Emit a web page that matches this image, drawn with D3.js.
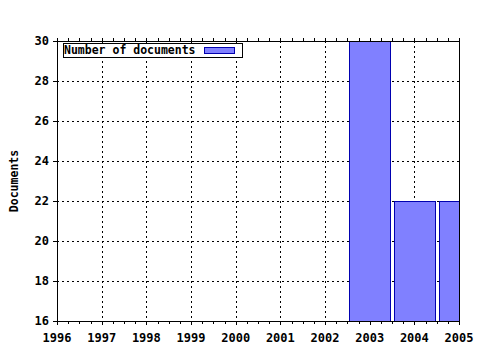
<!DOCTYPE html>
<html>
<head>
<meta charset="utf-8">
<script src="https://cdn.jsdelivr.net/npm/d3@7"></script>
<style>
  body { margin: 0; background: #fff; }
  text { font-family: "DejaVu Sans Mono", monospace; font-weight: bold; }
</style>
</head>
<body>
<div id="container"></div>
<script>
let w = 480;
let h = 350;

// data
let years = [2003, 2004, 2005];
let docs = [31, 22, 22];
let yearTicks = [1996, 1997, 1998, 1999, 2000, 2001, 2002, 2003, 2004, 2005];
let docTicks = [16, 18, 20, 22, 24, 26, 28, 30];
let legendLabel = "Number of documents";
let yLabel = "Documents";

let plotL = 57, plotR = 459, plotT = 41, plotB = 321;

let viz = d3.select("#container")
  .append("svg")
    .attr("width", w)
    .attr("height", h)
    .style("background-color", "white");

let xScale = d3.scaleLinear().domain([1996, 2005]).range([plotL, plotR]);
let yScale = d3.scaleLinear().domain([16, 30]).range([plotB, plotT]);

// clip for bars
viz.append("clipPath").attr("id", "plotclip")
  .append("rect")
    .attr("x", plotL).attr("y", plotT)
    .attr("width", plotR - plotL).attr("height", plotB - plotT);

// grid
let grid = viz.append("g").attr("class", "grid")
  .attr("stroke", "#000").attr("stroke-width", 1)
  .attr("stroke-dasharray", "2,3").attr("shape-rendering", "crispEdges");
grid.selectAll(".vgrid").data(yearTicks.slice(1, -1)).enter()
  .append("line")
    .attr("x1", d => Math.round(xScale(d)) + 0.5)
    .attr("x2", d => Math.round(xScale(d)) + 0.5)
    .attr("y1", plotT).attr("y2", plotB);
grid.selectAll(".hgrid").data(docTicks.slice(1, -1)).enter()
  .append("line")
    .attr("x1", plotL).attr("x2", plotR)
    .attr("y1", d => Math.round(yScale(d)) + 0.5)
    .attr("y2", d => Math.round(yScale(d)) + 0.5);

// bars
let barW = (xScale(1997) - xScale(1996)) * 0.91;
viz.append("g").attr("clip-path", "url(#plotclip)")
  .selectAll("rect").data(years).enter()
  .append("rect")
    .attr("x", (d) => Math.round(xScale(d) - barW / 2) + 0.5)
    .attr("y", (d, i) => Math.round(yScale(docs[i])) + 0.5)
    .attr("width", Math.round(barW))
    .attr("height", (d, i) => plotB - Math.round(yScale(docs[i])))
    .attr("fill", "#8080ff")
    .attr("stroke", "#0000b0")
    .attr("stroke-width", 1)
    .attr("shape-rendering", "crispEdges");

// minor ticks every quarter year, top and bottom
let quarterTicks = d3.range(1996, 2005.01, 0.25);
let tickG = viz.append("g").attr("stroke", "#000").attr("shape-rendering", "crispEdges");
tickG.selectAll(".tt").data(quarterTicks).enter()
  .append("line")
    .attr("x1", d => Math.round(xScale(d)) + 0.5)
    .attr("x2", d => Math.round(xScale(d)) + 0.5)
    .attr("y1", plotT).attr("y2", plotT - 3);
tickG.selectAll(".bt").data(quarterTicks).enter()
  .append("line")
    .attr("x1", d => Math.round(xScale(d)) + 0.5)
    .attr("x2", d => Math.round(xScale(d)) + 0.5)
    .attr("y1", plotB).attr("y2", d => plotB + (Number.isInteger(d) ? 4 : 3));
tickG.selectAll(".lt").data(docTicks).enter()
  .append("line")
    .attr("x1", plotL - 4).attr("x2", plotL)
    .attr("y1", d => Math.round(yScale(d)) + 0.5)
    .attr("y2", d => Math.round(yScale(d)) + 0.5);

// frame
viz.append("rect")
  .attr("x", plotL + 0.5).attr("y", plotT + 0.5)
  .attr("width", plotR - plotL).attr("height", plotB - plotT)
  .attr("fill", "none").attr("stroke", "#000")
  .attr("shape-rendering", "crispEdges");

// tick labels
viz.append("g").selectAll("text").data(yearTicks).enter()
  .append("text")
    .attr("x", d => xScale(d))
    .attr("y", 342)
    .attr("text-anchor", "middle")
    .attr("font-size", "12px")
    .text(d => d);
viz.append("g").selectAll("text").data(docTicks).enter()
  .append("text")
    .attr("x", 49)
    .attr("y", d => yScale(d) + 4)
    .attr("text-anchor", "end")
    .attr("font-size", "12px")
    .text(d => d);

// y axis title
viz.append("text")
  .attr("transform", "translate(18," + ((plotT + plotB) / 2) + ") rotate(-90)")
  .attr("text-anchor", "middle")
  .attr("font-size", "11.5px")
  .text(yLabel);

// legend
let legend = viz.append("g");
legend.append("rect")
  .attr("x", 63.5).attr("y", 43.5).attr("width", 179).attr("height", 14)
  .attr("fill", "white").attr("stroke", "#000").attr("shape-rendering", "crispEdges");
legend.append("text")
  .attr("x", 64).attr("y", 54)
  .attr("font-size", "11.5px")
  .text(legendLabel);
legend.append("rect")
  .attr("x", 204.5).attr("y", 47.5).attr("width", 30).attr("height", 6)
  .attr("fill", "#8080ff").attr("stroke", "#0000b0").attr("shape-rendering", "crispEdges");
</script>
</body>
</html>
